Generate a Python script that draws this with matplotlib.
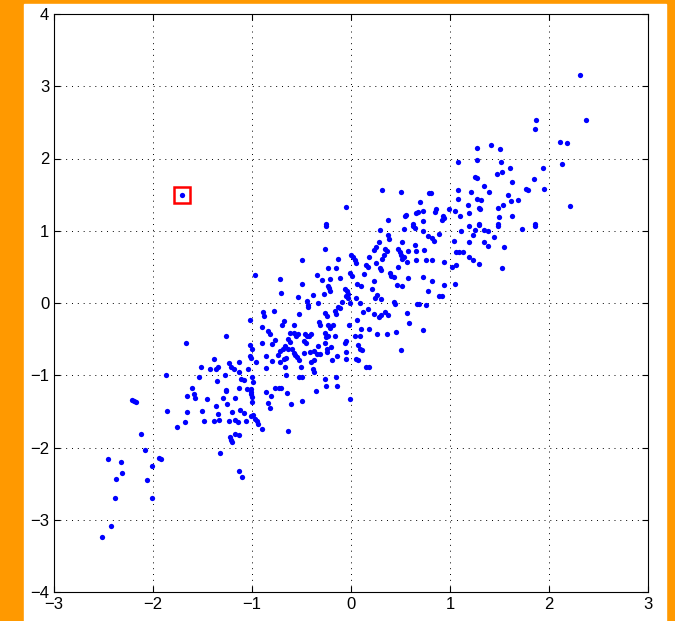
import numpy as np
import matplotlib
matplotlib.use("Agg")
import matplotlib.pyplot as plt
from matplotlib.patches import Rectangle

plt.rcParams["font.family"] = ["Liberation Sans", "DejaVu Sans"]

# scatter data
x_vals = [
    0.31, 0.50, 0.79, -0.05, 0.70, 0.56, 0.55, 0.66, 0.68, 0.73, 0.37, 0.73, -0.25, 0.63,
    2.31, 2.37, 1.87, 1.86, 2.11, 2.18, 1.27, 1.41, 1.50, 1.08, 1.27, 1.52, 2.13, 1.94,
    1.61, 1.25, 1.27, 1.47, 1.53, 1.34, 1.85, 1.63, 1.77, 1.79, 1.95, 1.08, 0.81, 1.08,
    1.21, 1.39, 1.27, 1.31, 1.29, 1.30, 1.18, 1.59, 1.62, 1.69, 1.54, 1.48, 2.21, 0.86,
    0.85, 0.99, 1.05, 0.93, 0.92, 0.94, 1.10, 1.19, 1.49, 1.63, 1.29, 1.48, 1.86,
    0.89, 0.82, 0.84, 1.19, 1.29, 1.11, 1.25, 1.34, 1.38, 1.48, 1.73, 1.86, 1.23, 1.44,
    1.04, 1.19, 1.34, 1.38, 1.55, 1.06, 1.09, 1.13, 1.19, 1.23, 0.82, 0.94, 1.29, 1.02,
    1.06, 1.53, 0.82, 1.05, 0.94, 0.89, 0.92,
    -0.97, -1.02, -1.26, -1.67, -1.02, -1.00, -1.02, -1.01, -1.38, -1.23, -1.13, -0.96,
    -1.52, -1.42, -1.36, -1.34, -1.21, -1.18, -1.04, -1.13, -1.87, -1.54, -1.27, -1.11,
    -1.08, -1.00, -0.99, -1.35, -1.61, -1.26, -1.13, -1.05, -1.01,
    -2.21, -2.19, -2.17, -1.86, -1.66, -1.59, -1.58, -1.45, -1.29, -1.26, -1.17, -1.01,
    -1.01, -1.00, -1.00, -1.36, -1.25, -1.66, -1.51, -1.34, -1.20, -1.12, -1.08, -1.01,
    -0.99, -0.97, -0.95, -0.94, -1.68, -1.48, -1.38, -1.33, -1.23, -1.17, -1.14, -1.06,
    -1.76, -2.12, -1.22, -1.21, -1.20, -1.17, -1.13, -2.08, -1.32, -2.45, -2.32, -1.94,
    -1.92, -2.31, -2.01, -2.37, -2.06, -1.13, -1.10, -2.38, -2.01, -2.42, -2.52,
    -0.86, -0.81, -0.65, -0.35, -0.84, -0.82, -0.61, -0.50, -0.01, -0.90, -0.64,
    -0.25, 0.29, 0.54, 0.63, 0.65, 0.73, 0.78, 0.37, 0.38, 0.52, 0.65, 0.28, 0.25, 0.23,
    -0.26, -0.49, 0.34, 0.36, 0.47, 0.49, 0.51, 0.54, 0.52, 0.58, 0.66, 0.74, 0.33, 0.31,
    0.18, 0.00, 0.02, 0.04, -0.13, 0.05, 0.15, 0.17, 0.25, 0.29, 0.30, 0.39, 0.40, 0.43,
    0.47, 0.57, 0.66, 0.76, 0.58, 0.73, 0.46, 0.52, 0.78, -0.23, -0.15, -0.34, -0.29,
    -0.21, -0.11, -0.01, 0.01, 0.06, 0.10, 0.13, 0.23, 0.21, 0.26, 0.24, 0.30, -0.50,
    -0.72, -0.71, -0.54, -0.38, -0.27, -0.23, -0.22, -0.21, -0.06, -0.04, -0.03, -0.05,
    -0.03, -0.09, -0.01, 0.05, 0.09, -0.44, -0.43, -0.33, 0.43, 0.44, 0.67, 0.69, 0.76,
    -0.13, -0.11, -0.16, -0.15, -0.26, -0.24, -0.53, -0.32, -0.31, -0.23, -0.21, -0.18,
    -0.26, -0.23, -0.16, -0.02, 0.06, 0.12, 0.17, 0.23, 0.28, 0.30, 0.34, 0.37, 0.10,
    0.18, 0.26, 0.36, 0.45, 0.59, 0.57, 0.73, 0.50, 0.04, 0.09, -0.05, -0.06, 0.07, 0.09,
    0.11, -0.05, 0.05, 0.07, 0.15, 0.18, -0.26, -0.25, -0.33, -0.24, -0.20, -0.37, -0.34,
    -0.41, -0.31, -0.24, -0.37, -0.40, -0.19, -0.14, -0.05, -0.38, -0.37, -0.26, -0.15,
    -0.14, -0.25, -0.53, -0.50, -0.73, -0.71, -0.66, -0.51, -0.67, -0.72, -0.80, -0.68,
    -0.66, -0.58, -0.57, -0.55, -0.53, -0.74, -0.72, -0.69, -0.67, -0.64, -0.60, -0.64,
    -0.62, -0.62, -0.58, -0.56, -0.54, -0.58, -0.46, -0.44, -0.42, -0.40, -0.47, -0.45,
    -0.47, -0.84, -0.82, -0.77, -0.68, -0.70, -0.78, -0.89, -0.88, -0.90, -0.90, -0.80,
    -0.86, -0.86, -0.77, -0.43,
]
y_vals = [
    1.57, 1.54, 1.52, 1.33, 1.40, 1.22, 1.20, 1.24, 1.26, 1.27, 1.15, 1.14, 1.09, 1.09,
    3.15, 2.53, 2.53, 2.41, 2.23, 2.21, 2.15, 2.18, 2.13, 1.95, 1.98, 1.95, 1.93, 1.87,
    1.87, 1.75, 1.73, 1.78, 1.81, 1.62, 1.71, 1.67, 1.58, 1.56, 1.58, 1.56, 1.52, 1.44,
    1.53, 1.53, 1.44, 1.43, 1.32, 1.30, 1.35, 1.49, 1.41, 1.43, 1.35, 1.32, 1.34, 1.30,
    1.26, 1.30, 1.27, 1.21, 1.15, 1.17, 1.21, 1.24, 1.19, 1.20, 1.10, 1.09, 1.09,
    0.95, 0.90, 0.86, 1.06, 1.08, 1.00, 1.01, 1.01, 1.00, 1.07, 1.03, 1.07, 0.94, 0.92,
    0.86, 0.84, 0.84, 0.79, 0.77, 0.71, 0.71, 0.71, 0.63, 0.60, 0.60, 0.57, 0.54, 0.50,
    0.52, 0.48, 0.31, 0.26, 0.25, 0.09, 0.09,
    0.39, -0.23, -0.46, -0.55, -0.58, -0.64, -0.74, -0.76, -0.77, -0.83, -0.81, -0.82,
    -0.89, -0.91, -0.91, -0.88, -0.88, -0.91, -0.91, -0.95, -1.00, -1.03, -1.00, -1.05,
    -1.07, -1.03, -1.09, -1.08, -1.17, -1.20, -1.17, -1.19, -1.19,
    -1.34, -1.36, -1.37, -1.49, -1.29, -1.26, -1.31, -1.33, -1.32, -1.22, -1.32, -1.23,
    -1.26, -1.30, -1.37, -1.43, -1.40, -1.51, -1.49, -1.53, -1.51, -1.48, -1.52, -1.56,
    -1.55, -1.61, -1.64, -1.67, -1.65, -1.63, -1.64, -1.62, -1.63, -1.62, -1.65, -1.63,
    -1.72, -1.81, -1.86, -1.89, -1.93, -1.81, -1.83, -2.03, -2.07, -2.16, -2.20, -2.14,
    -2.16, -2.35, -2.25, -2.44, -2.45, -2.33, -2.41, -2.70, -2.70, -3.09, -3.24,
    -1.23, -1.29, -1.25, -1.22, -1.38, -1.46, -1.40, -1.35, -1.33, -1.74, -1.77,
    1.06, 1.01, 1.02, 1.06, 1.04, 0.99, 0.93, 0.94, 0.89, 0.85, 0.80, 0.85, 0.78, 0.73,
    0.75, 0.60, 0.75, 0.72, 0.75, 0.71, 0.67, 0.64, 0.61, 0.72, 0.72, 0.74, 0.66, 0.61,
    0.63, 0.66, 0.63, 0.60, 0.61, 0.56, 0.52, 0.50, 0.56, 0.48, 0.45, 0.42, 0.38, 0.36,
    0.50, 0.57, 0.60, 0.60, 0.34, 0.36, 0.25, 0.23, 0.17, 0.49, 0.49, 0.39, 0.32,
    0.33, 0.34, 0.41, 0.38, 0.26, 0.24, 0.40, 0.31, 0.19, 0.11, 0.07, 0.05, 0.26,
    0.33, 0.14, 0.08, 0.11, 0.12, 0.24, 0.21, 0.17, 0.19, 0.16, 0.13, 0.09,
    0.07, 0.02, 0.00, 0.07, 0.00, 0.03, -0.03, 0.00, 0.02, -0.01, -0.01, -0.02, -0.03,
    -0.05, -0.07, -0.11, -0.15, -0.14, -0.18, -0.15, -0.26, -0.31, -0.31, -0.35, -0.31,
    -0.42, -0.45, -0.45, -0.31, -0.24, -0.13, -0.08, -0.15, -0.19, -0.17, -0.12, -0.17, -0.36,
    -0.36, -0.43, -0.43, -0.40, -0.27, -0.14, -0.38, -0.65, -0.46, -0.46, -0.52, -0.55, -0.58,
    -0.63, -0.65, -0.68, -0.77, -0.79, -0.89, -0.88, -0.55, -0.47, -0.60, -0.63, -0.61, -0.66,
    -0.70, -0.68, -0.71, -0.68, -0.79, -0.81, -0.79, -0.74, -0.78, -0.92, -0.96, -1.05, -1.02,
    -1.15, -1.15, -1.02, -1.02, -1.17, -1.18, -1.00, -0.88, -0.88, -0.81, -0.80, -0.78,
    -0.76, -0.69, -0.72, -0.75, -0.79, -0.72, -0.66, -0.63, -0.60, -0.63, -0.63, -0.50,
    -0.54, -0.42, -0.42, -0.45, -0.43, -0.31, -0.43, -0.45, -0.45, -0.43, -0.52, -0.55,
    -0.69, -0.39, -0.43, -0.51, -0.25, -0.31, -0.11, -0.13, -0.18, -0.33, -0.55, -0.57,
    -0.73, -0.90, -1.18, -0.06,
]
outlier = (-1.71, 1.50)

fig = plt.figure(figsize=(6.75, 6.21), dpi=100, facecolor="#FF9900")
fig.patches.append(Rectangle((24 / 675, 0), (666 - 24) / 675, 617 / 621,
                             transform=fig.transFigure, color="white", zorder=-5))

ax = fig.add_axes([54 / 675, 29 / 621, 594 / 675, 578 / 621])
ax.set_zorder(1)
ax.plot(x_vals, y_vals, "o", color="blue", markersize=3.8, markeredgewidth=0)
ax.plot([outlier[0]], [outlier[1]], "o", color="blue", markersize=3.8, markeredgewidth=0)
ax.plot([outlier[0]], [outlier[1]], "s", markersize=11.5, markerfacecolor="none",
        markeredgecolor="red", markeredgewidth=1.8)

ax.set_xlim(-3, 3)
ax.set_ylim(-4, 4)
ax.set_xticks(np.arange(-3, 4, 1))
ax.set_yticks(np.arange(-4, 5, 1))
ax.grid(True, color="black", linestyle=(0, (1, 5)), linewidth=0.7)
ax.tick_params(direction="in", length=4, labelsize=12, width=0.8,
               top=True, right=True)
for s in ax.spines.values():
    s.set_linewidth(0.8)

fig.savefig("out.png", dpi=100, facecolor=fig.get_facecolor())
